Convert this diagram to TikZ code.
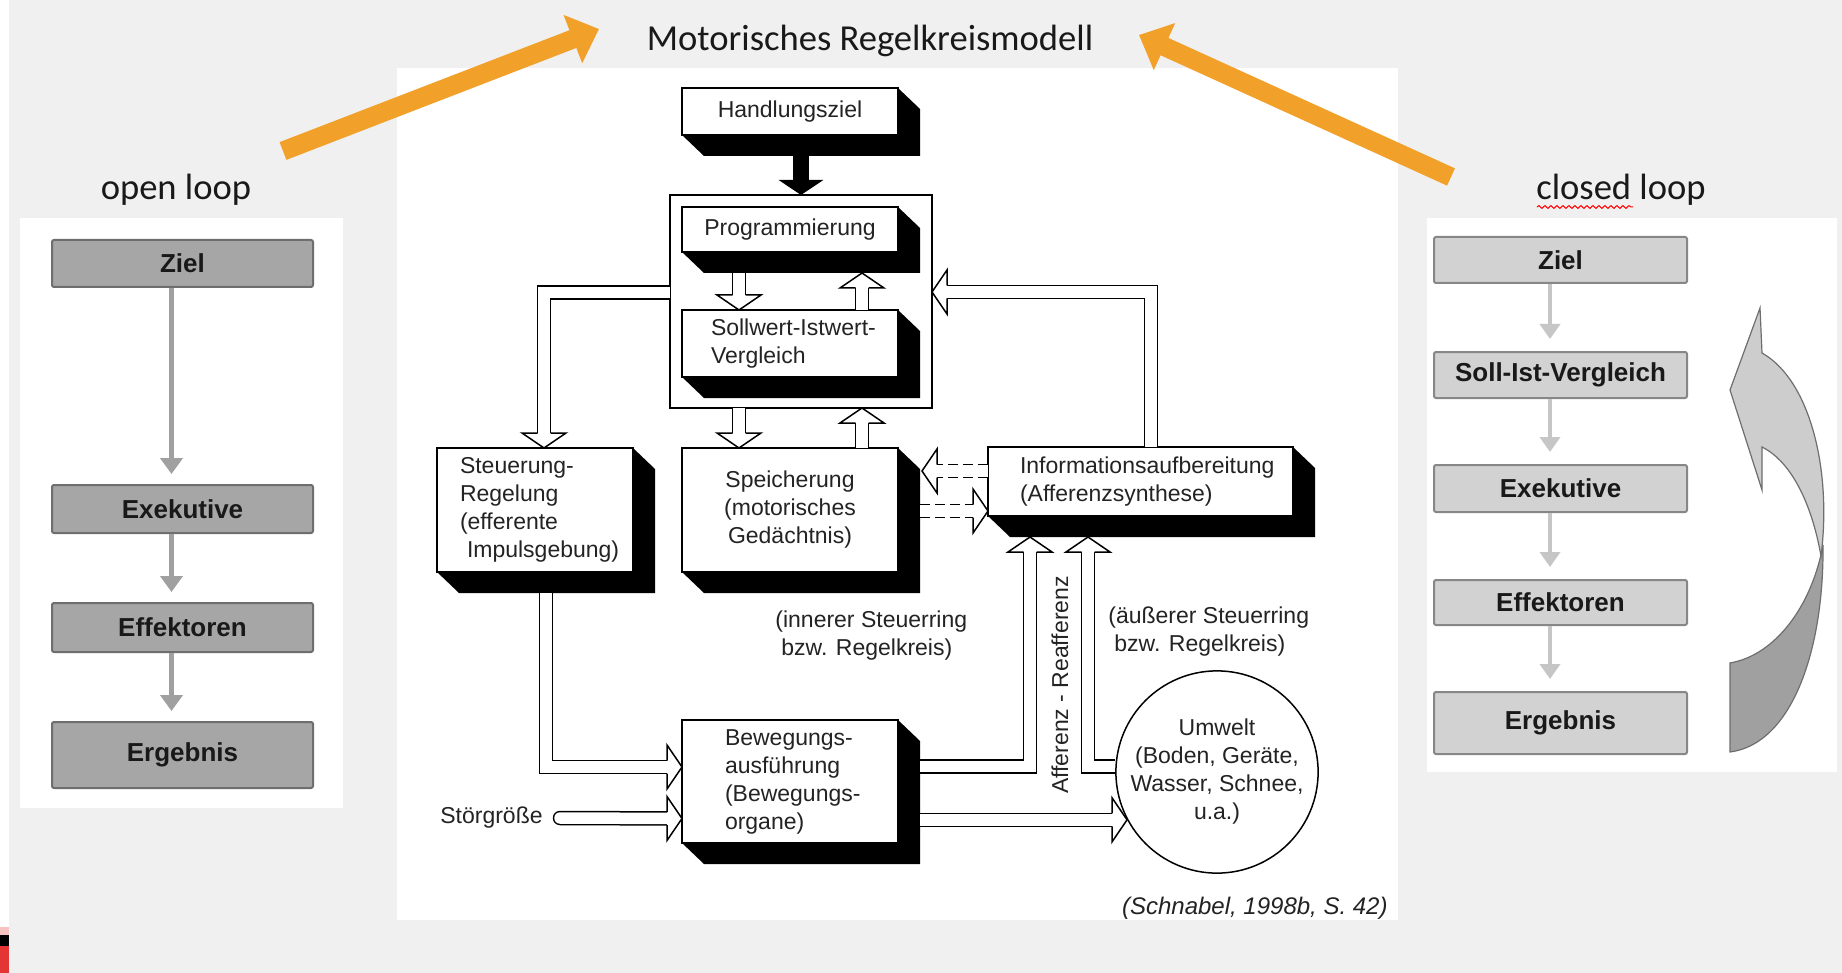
\documentclass[tikz,border=0pt]{standalone}
\usepackage{fontspec}
\setmainfont{Liberation Sans}
\newfontfamily\calibri{Carlito}
\usetikzlibrary{arrows.meta,calc,decorations.pathmorphing}

\definecolor{Hinter}{RGB}{240,240,240}
\definecolor{Orangeton}{RGB}{241,160,42}
\definecolor{GrauL}{RGB}{166,166,166}
\definecolor{GrauLRand}{RGB}{110,110,110}
\definecolor{GrauR}{RGB}{210,210,210}
\definecolor{GrauRRand}{RGB}{135,135,135}
\definecolor{PfeilL}{RGB}{160,160,160}
\definecolor{PfeilR}{RGB}{198,198,198}
\definecolor{BogenHell}{RGB}{205,205,205}
\definecolor{BogenDunkel}{RGB}{160,160,160}
\definecolor{BogenRand}{RGB}{110,110,110}
\definecolor{Schrift}{RGB}{35,35,35}
\definecolor{Logo}{RGB}{228,52,52}

\hyphenpenalty=10000
\exhyphenpenalty=10000

\newcommand{\schrift}{\fontsize{11.5}{14}\selectfont}
% black depth of the 3d boxes
\newcommand{\schatten}[1]{%
  \fill (#1.south west) -- ++(22,21) -| ($(#1.north east)+(22,21)$)
    -- (#1.north east) -- (#1.south east) -- cycle;}
% open arrow head for the double lines
\newcommand{\hohlspitze}[2]{%
  \filldraw[fill=white, line width=0.75pt, line join=miter, shift={(#1)}, rotate=#2]
    (-15,-6.5) -- (-15,-22) -- (0,0) -- (-15,22) -- (-15,6.5);}

\tikzset{
  titel/.style={font=\calibri\fontsize{18.3}{22}\selectfont, text=black!90, inner sep=0pt},
  txt/.style={font=\schrift, text=Schrift, inner sep=0pt},
  kasten/.style={draw, fill=white, line width=1pt, inner ysep=0pt, outer sep=0pt,
    font=\schrift, text=Schrift},
  hohl/.style={draw=black, double=white, line width=0.75pt, double distance=5.75pt,
    line join=miter, shorten >=7.5pt},
  hohlgestr/.style={hohl, dash pattern=on 5pt off 2.5pt},
  orangepfeil/.style={Orangeton, line width=9.5pt, -{Triangle[width=25pt,length=14pt]}},
  ostufe/.style={draw=GrauLRand, fill=GrauL, line width=1pt, rounded corners=1pt,
    minimum width=130.5pt, inner sep=0pt, font=\fontsize{13}{15}\selectfont\bfseries, text=black!90},
  cstufe/.style={ostufe, draw=GrauRRand, fill=GrauR, minimum width=126.5pt},
  opfeil/.style={PfeilL, line width=2.5pt, -{Triangle[width=11pt,length=8pt]}, shorten >=5pt},
  cpfeil/.style={PfeilR, line width=2pt, -{Triangle[width=10pt,length=7.5pt]}, shorten >=6pt}
}

\begin{document}
\begin{tikzpicture}[x=0.5pt, y=-0.5pt]
  \useasboundingbox (0,0) rectangle (1842,973);

  % background and white panels
  \fill[Hinter] (0,0) rectangle (1842,973);
  \fill[white] (0,0) rectangle (9,973);
  \fill[white] (20,218) rectangle (343,808);
  \fill[white] (397,68) rectangle (1398,920);
  \fill[white] (1427,218) rectangle (1837,772);
  \fill[Logo!30] (0,927) rectangle (9,935);
  \fill[black] (0,935) rectangle (9,946);
  \fill[Logo] (0,946) rectangle (9,973);

  % headings and orange arrows
  \node[titel] (titel) at (870,41) {Motorisches Regelkreismodell};
  \node[titel] (openloop) at (176,190) {open loop};
  \node[titel] (closedloop) at (1621,190) {closed loop};
  \draw[red, line width=0.5pt, decorate, decoration={snake, amplitude=0.7pt, segment length=3pt}]
    (1537,207) -- (1633,207);
  \coordinate (oltail) at (283,151);
  \coordinate (oltip) at (599,29);
  \coordinate (crtail) at (1451,177);
  \coordinate (crtip) at (1139,35);
  \draw[orangepfeil] (oltail) -- (oltip);
  \draw[orangepfeil] (crtail) -- (crtip);

  % open loop
  \node[ostufe, minimum height=23.5pt] (oziel) at (182.5,263.5) {Ziel};
  \node[ostufe, minimum height=24pt] (oexek) at (182.5,509) {Exekutive};
  \node[ostufe, minimum height=24.5pt] (oeff) at (182.5,627.5) {Effektoren};
  \node[ostufe, minimum height=33pt] (oerg) at (182.5,755) {Ergebnis};
  \foreach \a/\b in {oziel/oexek, oexek/oeff, oeff/oerg}
    \draw[opfeil] ([xshift=-5.5pt]\a.south) -- ([xshift=-5.5pt]\b.north);

  % closed loop
  \node[cstufe, minimum height=23pt] (cziel) at (1560.5,260) {Ziel};
  \node[cstufe, minimum height=23pt] (csoll) at (1560.5,375) {Soll-Ist-Vergleich};
  \node[cstufe, minimum height=23.5pt] (cexek) at (1560.5,488.5) {Exekutive};
  \node[cstufe, minimum height=22.5pt] (ceff) at (1560.5,602.5) {Effektoren};
  \node[cstufe, minimum height=31pt] (cerg) at (1560.5,723) {Ergebnis};
  \foreach \a/\b in {cziel/csoll, csoll/cexek, cexek/ceff, ceff/cerg}
    \draw[cpfeil] ([xshift=-5.25pt]\a.south) -- ([xshift=-5.25pt]\b.north);
  % feedback bow
  \filldraw[fill=BogenDunkel, draw=BogenRand, line width=0.6pt]
    (1730,663) -- (1730,752) .. controls (1792,744) and (1824,650) .. (1823,545)
    .. controls (1812,605) and (1776,655) .. (1730,663) -- cycle;
  \filldraw[fill=BogenHell, draw=BogenRand, line width=0.6pt]
    (1760,308) -- (1730,390) -- (1762,490) -- (1762,447)
    .. controls (1792,462) and (1812,505) .. (1821,556)
    .. controls (1832,470) and (1810,380) .. (1762,353) -- cycle;

  % control loop model
  \node[draw, line width=1pt, outer sep=0pt, minimum width=131pt, minimum height=106.5pt] (rahmen) at (801,301.5) {};
  \node[kasten, minimum width=108pt, minimum height=23.5pt, text width=100pt, inner xsep=4pt, align=center]
    (hziel) at (790,111.5) {Handlungsziel};
  \schatten{hziel}
  \node[kasten, minimum width=108pt, minimum height=22.5pt, text width=100pt, inner xsep=4pt, align=center]
    (prog) at (790,229.5) {Programmierung};
  \schatten{prog}
  \node[kasten, minimum height=33.5pt, text width=79pt, inner xsep=14.5pt, align=left]
    (soll) at (790,343.5) {Sollwert-Istwert-\\Vergleich};
  \schatten{soll}
  \node[kasten, minimum height=62pt, text width=75pt, inner xsep=11.5pt, align=left]
    (steu) at (535,510) {Steuerung-\\Regelung\\(efferente\\\hspace*{3.5pt}Impulsgebung)};
  \schatten{steu}
  \node[kasten, minimum height=62pt, text width=100pt, inner xsep=4pt, align=center]
    (speich) at (790,510) {Speicherung\\(motorisches\\Gedächtnis)};
  \schatten{speich}
  \node[kasten, minimum height=61.5pt, text width=65pt, inner xsep=21.5pt, align=left]
    (beweg) at (790,781.5) {Bewegungs-\\ausführung\\(Bewegungs-\\organe)};
  \schatten{beweg}
  \node[kasten, minimum height=34.5pt, text width=120.5pt, inner xsep=16pt, align=left]
    (info) at (1140.5,481.5) {Informationsaufbereitung\\(Afferenzsynthese)};
  \schatten{info}
  \node[draw, circle, fill=white, line width=0.75pt, minimum size=100pt, inner sep=0pt,
    align=center, font=\schrift, text=Schrift] (umwelt) at (1217,772)
    {Umwelt\\(Boden, Geräte,\\Wasser, Schnee,\\u.a.)};

  \node[txt, anchor=east] (stoer) at (543,818) {Störgröße};
  \node[txt, anchor=west, align=left] (innen) at (775,636) {(innerer Steuerring\\\hspace*{3pt}bzw. Regelkreis)};
  \node[txt, anchor=west, align=left] (aussen) at (1108,632) {(äußerer Steuerring\\\hspace*{3pt}bzw. Regelkreis)};
  \node[txt, rotate=90] (afferenz) at (1060,685) {Afferenz - Reafferenz};
  \node[txt, anchor=east, font=\fontsize{12}{14}\selectfont\itshape] (quelle) at (1388,908) {(Schnabel, 1998b, S. 42)};

  % connectors
  \draw[line width=8pt, -{Triangle[width=22pt,length=7.5pt]}] ($(hziel.south)+(11,21)$) -- (rahmen.north);

  \draw[hohl] ($(prog.south)+(-51,21)$) -- ($(soll.north)+(-51,0)$);
  \hohlspitze{$(soll.north)+(-51,0)$}{-90}
  \draw[hohl] ($(soll.north)+(72,0)$) -- ($(prog.south)+(72,21)$);
  \hohlspitze{$(prog.south)+(72,21)$}{90}

  \draw[hohl] ($(rahmen.south)+(-62,0)$) -- ($(speich.north)+(-51,0)$);
  \hohlspitze{$(speich.north)+(-51,0)$}{-90}
  \draw[hohl] ($(speich.north)+(72,0)$) -- ($(rahmen.south)+(61,0)$);
  \hohlspitze{$(rahmen.south)+(61,0)$}{90}

  \draw[hohl] ($(rahmen.west)+(0,-9)$) -| ($(steu.north)+(9,0)$);
  \hohlspitze{$(steu.north)+(9,0)$}{-90}
  \draw[hohl] ($(info.north)+(10.5,0)$) |- ($(rahmen.east)+(0,-9.5)$);
  \hohlspitze{$(rahmen.east)+(0,-9.5)$}{180}

  \draw[hohlgestr] ($(info.west)+(0,-10.5)$) -- ($(speich.east)+(24,-39)$);
  \hohlspitze{$(speich.east)+(24,-39)$}{180}
  \draw[hohlgestr] ($(speich.east)+(22,1)$) -- ($(info.west)+(0,29.5)$);
  \hohlspitze{$(info.west)+(0,29.5)$}{0}

  \draw[hohl] ($(steu.south)+(11,21)$) |- ($(beweg.west)+(0,-14.5)$);
  \hohlspitze{$(beweg.west)+(0,-14.5)$}{0}
  \draw[hohl, line cap=round] ([xshift=8.5pt]stoer.east) -- ($(beweg.west)+(0,37)$);
  \hohlspitze{$(beweg.west)+(0,37)$}{0}

  \draw[hohl] ($(umwelt.177 -| beweg.east)+(22,0)$) -| ($(info.south)+(-110.5,21)$);
  \hohlspitze{$(info.south)+(-110.5,21)$}{90}
  \draw[hohl] (umwelt.177) -| ($(info.south)+(-52.5,21)$);
  \hohlspitze{$(info.south)+(-52.5,21)$}{90}
  \draw[hohl] ($(umwelt.208 -| beweg.east)+(22,0)$) -- (umwelt.208);
  \hohlspitze{umwelt.208}{0}
\end{tikzpicture}
\end{document}
